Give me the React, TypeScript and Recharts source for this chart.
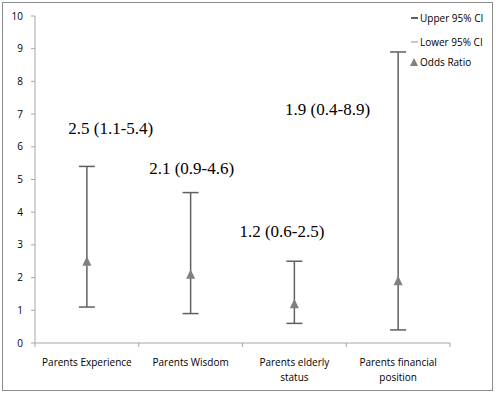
import React from 'react';
import { ScatterChart, Scatter, XAxis, YAxis, ErrorBar } from 'recharts';

const categories = ['Parents Experience', 'Parents Wisdom', 'Parents elderly status', 'Parents financial position'];
const oddsRatio = [2.5, 2.1, 1.2, 1.9];
const lowerCI = [1.1, 0.9, 0.6, 0.4];
const upperCI = [5.4, 4.6, 2.5, 8.9];
const yTicks = [0, 1, 2, 3, 4, 5, 6, 7, 8, 9, 10];
const legendLabels = ['Upper 95% CI', 'Lower 95% CI', 'Odds Ratio'];

// annotation anchors (layout, in data units)
const annotationDx = [0.23, 0.01, -0.12, -0.68];
const annotationY = [6.55, 5.33, 3.4, 7.15];

const data = categories.map((c, i) => ({
  x: i + 0.5,
  y: oddsRatio[i],
  err: [oddsRatio[i] - lowerCI[i], upperCI[i] - oddsRatio[i]],
}));

const labelData = categories.map((c, i) => ({
  x: i + 0.5 + annotationDx[i],
  y: annotationY[i],
  text: `${oddsRatio[i]} (${lowerCI[i]}-${upperCI[i]})`,
}));

const AXIS = '#a6a6a6';
const WHISKER = '#606060';
const MARK = '#808080';
const SANS = '"Open Sans", "Liberation Sans", sans-serif';
const TICK_SIZE = 4;
const TICK_MARGIN = 8;

const xTickValues = [0, 0.5, 1, 1.5, 2, 2.5, 3, 3.5, 4];

const wrapLines = (name: string): string[] => {
  if (name === 'Parents elderly status') return ['Parents elderly', 'status'];
  if (name === 'Parents financial position') return ['Parents financial', 'position'];
  return [name];
};

const XTick = (props: any) => {
  const { x, y, payload } = props;
  const v = payload.value as number;
  const axisY = y - TICK_SIZE - TICK_MARGIN;
  if (Number.isInteger(v)) {
    return <line x1={x} x2={x} y1={axisY} y2={axisY + 4} stroke={AXIS} strokeWidth={1} />;
  }
  const idx = Math.floor(v);
  const lines = wrapLines(categories[idx]);
  return (
    <text x={x} y={axisY + 23} textAnchor="middle" fontFamily={SANS} fontSize={10} fill="#000">
      {lines.map((l, k) => (
        <tspan key={k} x={x} dy={k === 0 ? 0 : 15}>{l}</tspan>
      ))}
    </text>
  );
};

const Triangle = (props: any) => {
  const { cx, cy } = props;
  if (cx == null || cy == null) return null;
  return <polygon points={`${cx - 4.5},${cy + 4.5} ${cx + 4.5},${cy + 4.5} ${cx},${cy - 5}`} fill={MARK} />;
};

const Annotation = (props: any) => {
  const { cx, cy, payload } = props;
  if (cx == null || cy == null) return null;
  return (
    <text x={cx} y={cy} textAnchor="middle" dominantBaseline="central" fontFamily='"Liberation Serif", "Times New Roman", serif' fontSize={17} fill="#000">
      {payload.text}
    </text>
  );
};

const LegendBox = () => {
  const markers = [
    <div style={{ width: 7, height: 2, background: WHISKER }} />,
    <div style={{ width: 7, height: 2, background: '#c8c8c8' }} />,
    <svg width={8} height={8}><polygon points="0,8 8,8 4,0" fill={MARK} /></svg>,
  ];
  const tops = [0, 24, 44];
  return (
    <div style={{ position: 'absolute', left: 410, top: 11, width: 82, height: 70 }}>
      {legendLabels.map((label, i) => (
        <div key={label} style={{ position: 'absolute', left: 0, top: tops[i], display: 'flex', alignItems: 'center', height: 14 }}>
          <div style={{ width: 8, display: 'flex', justifyContent: 'center' }}>{markers[i]}</div>
          <span style={{ marginLeft: 2, fontFamily: SANS, fontSize: 10, color: '#000', whiteSpace: 'nowrap' }}>{label}</span>
        </div>
      ))}
    </div>
  );
};

export default function App() {
  return (
    <div style={{ position: 'absolute', left: 0, top: 0, width: 496, height: 395, background: '#fff' }}>
      <div style={{ position: 'absolute', left: 2, top: 2, width: 489, height: 387, border: '1px solid #8c8c8c' }} />
      <ScatterChart width={496} height={395} margin={{ top: 16, right: 46, bottom: 0, left: 0 }}>
        <XAxis
          type="number"
          dataKey="x"
          domain={[0, 4]}
          ticks={xTickValues}
          interval={0}
          tick={<XTick />}
          tickLine={false}
          tickSize={TICK_SIZE}
          tickMargin={TICK_MARGIN}
          axisLine={{ stroke: AXIS }}
          height={52}
          allowDecimals
        />
        <YAxis
          type="number"
          dataKey="y"
          domain={[0, 10]}
          ticks={yTicks}
          interval={0}
          width={35}
          tickSize={TICK_SIZE}
          tickMargin={8}
          tickLine={{ stroke: AXIS }}
          axisLine={{ stroke: AXIS }}
          tick={{ fontFamily: SANS, fontSize: 10, fill: '#000' }}
        />
        <Scatter data={data} shape={<Triangle />} isAnimationActive={false} name="Odds Ratio">
          <ErrorBar dataKey="err" direction="y" width={8} stroke={WHISKER} strokeWidth={1.5} isAnimationActive={false} />
        </Scatter>
        <Scatter data={labelData} shape={<Annotation />} isAnimationActive={false} />
      </ScatterChart>
      <LegendBox />
    </div>
  );
}
